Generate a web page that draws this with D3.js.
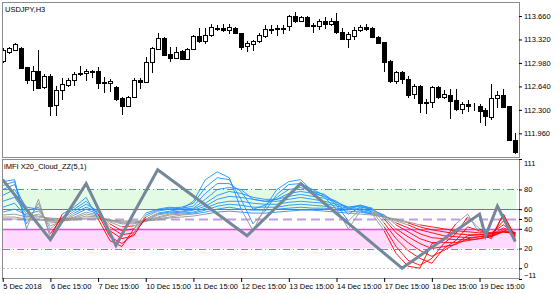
<!DOCTYPE html>
<html>
<head>
<meta charset="utf-8">
<script src="https://cdn.jsdelivr.net/npm/d3@7"></script>
<style>
  body { margin: 0; background: #fff; }
  svg { display: block; font-family: "Liberation Sans", Arial, sans-serif; font-size: 7.5px; }
</style>
</head>
<body>
<svg id="chart" width="560" height="294"></svg>
<script>
// USDJPY H3 candles, 5 Dec 15:00 .. 20 Dec 2018
const opens = [113.008,113.138,113.167,113.196,112.921,112.733,112.863,112.631,112.790,112.370,
  112.588,112.660,112.733,112.834,112.834,112.863,112.863,112.704,112.689,112.631,
  112.472,112.356,112.486,112.733,112.704,112.993,113.182,113.341,113.109,113.051,
  113.153,113.037,113.182,113.370,113.298,113.385,113.486,113.486,113.457,113.486,
  113.414,113.225,113.254,113.298,113.370,113.472,113.472,113.486,113.515,113.660,
  113.588,113.646,113.530,113.515,113.588,113.544,113.588,113.428,113.327,113.370,
  113.457,113.501,113.486,113.356,113.283,113.008,112.718,112.848,112.747,112.530,
  112.646,112.414,112.414,112.631,112.486,112.515,112.443,112.312,112.385,112.356,
  112.356,112.298,112.196,112.472,112.515,112.356,111.863]
const highs = [113.196,113.211,113.269,113.211,112.921,112.935,113.167,112.819,112.819,112.646,
  112.761,112.761,112.848,112.935,112.892,112.877,112.921,112.776,112.747,112.646,
  112.486,112.501,112.761,112.761,113.066,113.211,113.414,113.356,113.211,113.211,
  113.167,113.196,113.385,113.486,113.486,113.544,113.530,113.544,113.544,113.501,
  113.414,113.298,113.312,113.414,113.530,113.530,113.530,113.530,113.675,113.718,
  113.660,113.660,113.559,113.617,113.646,113.631,113.704,113.486,113.428,113.501,
  113.530,113.544,113.501,113.370,113.283,113.022,112.863,112.863,112.790,112.675,
  112.660,112.457,112.646,112.646,112.588,112.602,112.602,112.414,112.443,112.399,
  112.385,112.327,112.675,112.573,112.602,112.356,111.964]
const lows = [112.993,113.124,113.167,112.906,112.689,112.588,112.617,112.617,112.225,112.225,
  112.457,112.646,112.660,112.805,112.733,112.776,112.617,112.559,112.573,112.443,
  112.240,112.356,112.486,112.617,112.704,112.848,113.182,113.095,113.008,113.051,
  113.037,113.037,113.182,113.283,113.269,113.370,113.457,113.443,113.414,113.414,
  113.182,113.153,113.167,113.283,113.356,113.414,113.385,113.414,113.457,113.573,
  113.588,113.515,113.428,113.472,113.486,113.530,113.414,113.327,113.211,113.327,
  113.443,113.457,113.356,113.269,112.863,112.704,112.689,112.689,112.486,112.472,
  112.269,112.254,112.341,112.472,112.472,112.182,112.298,112.254,112.283,112.298,
  112.124,112.080,112.167,112.341,112.341,111.863,111.675]
const closes = [113.167,113.196,113.254,112.906,112.733,112.863,112.617,112.790,112.356,112.588,
  112.675,112.733,112.819,112.819,112.863,112.848,112.689,112.689,112.718,112.457,
  112.356,112.486,112.733,112.704,112.993,113.196,113.341,113.095,113.051,113.138,
  113.037,113.182,113.370,113.298,113.385,113.501,113.472,113.457,113.501,113.414,
  113.211,113.269,113.298,113.385,113.472,113.457,113.486,113.472,113.660,113.588,
  113.646,113.515,113.515,113.588,113.544,113.588,113.428,113.327,113.399,113.457,
  113.501,113.472,113.356,113.269,112.993,112.718,112.848,112.747,112.515,112.646,
  112.399,112.399,112.631,112.486,112.530,112.428,112.312,112.385,112.356,112.350,
  112.283,112.211,112.472,112.515,112.341,111.863,111.689]

const priceTicks = [113.660, 113.320, 112.980, 112.640, 112.300, 111.960]
const mfiTicks = [111, 80, 60, 50, 40, 20, 0, -11]
const dateIdx = [0, 8, 16, 24, 32, 40, 48, 56, 64, 72, 80]
const dateLabels = ['5 Dec 2018', '6 Dec 15:00', '7 Dec 15:00', '10 Dec 15:00', '11 Dec 15:00',
  '12 Dec 15:00', '13 Dec 15:00', '14 Dec 15:00', '17 Dec 15:00', '18 Dec 15:00', '19 Dec 15:00']

// MFI cloud, one value every second bar, fastest line first
const cloudIdx = d3.range(0, 87, 2)
const mfi1 = [88,90,40,70,31,55,62,72,50,28,22,40,56,60,62,60,68,90,98,92,60,38,62,80,88,90,78,72,60,40,58,55,38,15,2,0,25,28,45,55,35,30,55,30]
const mfi2 = [84,88,45,66,35,52,60,68,55,32,25,35,54,59,61,62,66,82,92,90,70,45,58,75,85,86,80,74,64,48,60,58,42,22,8,3,10,25,35,52,40,32,55,32]
const mfi3 = [80,85,58,62,40,50,58,65,58,38,30,33,52,58,60,61,63,76,86,86,78,60,64,72,80,82,78,75,66,55,62,60,46,30,18,10,5,20,28,42,38,35,48,33]
const mfi4 = [74,80,62,60,43,48,56,62,57,42,34,36,50,56,58,60,61,70,80,82,80,70,68,70,76,78,76,73,68,60,64,61,50,36,26,18,12,18,25,33,34,36,44,35]
const mfi5 = [68,72,55,58,46,47,54,60,55,45,38,40,49,55,57,58,60,66,74,78,76,72,70,70,73,75,73,71,67,62,64,60,52,40,32,25,20,22,24,30,32,34,41,36]
const mfi6 = [62,66,52,55,48,48,52,57,54,47,42,43,48,54,56,57,59,63,70,73,72,70,68,68,70,72,70,68,65,62,63,59,54,44,37,30,26,26,26,28,30,33,39,35]
const mfi7 = [57,60,54,53,50,50,51,55,53,48,45,45,48,52,55,56,57,61,66,68,68,66,65,65,67,68,67,66,63,61,61,57,54,46,41,35,31,30,29,29,30,32,37,35]
const mfi8 = [54,55,52,52,51,50,50,53,52,49,46,46,48,51,54,55,56,59,63,65,64,62,62,62,64,65,64,63,61,60,59,56,53,48,44,39,36,33,32,31,32,33,37,35]
const mfi9 = [52,52,50,50,49,49,50,51,51,49,47,47,48,50,52,54,55,57,60,62,60,59,59,60,61,62,61,61,59,58,57,55,52,49,46,42,39,37,35,34,34,35,37,36]
const mfi10 = [50,50,49,49,48,48,49,50,50,49,48,48,48,49,51,52,53,55,57,58,57,56,56,57,58,59,59,58,57,56,55,54,52,50,47,44,42,40,38,37,36,36,37,36]

const zzIdx = [0, 8, 14, 19, 26, 41, 50, 67, 80, 81, 83, 86]
const zzVal = [90, 29, 86, 23, 100, 33, 86, 0, 55, 33, 63, 27]

const svg = d3.select('#chart')

const left = 2, right = 519
const top1 = 2, bot1 = 157, top2 = 159, bot2 = 278

const x = d3.scaleLinear().domain([0, 86]).range([2.7, 515.3])
const yP = d3.scaleLinear().domain([111.617, 113.863]).range([bot1, top1])
const yM = d3.scaleLinear().domain([-11, 111]).range([279, 159])

svg.append('clipPath').attr('id', 'c1')
  .append('rect').attr('x', left).attr('y', top1).attr('width', right - left).attr('height', bot1 - top1)
svg.append('clipPath').attr('id', 'c2')
  .append('rect').attr('x', left).attr('y', top2).attr('width', right - left).attr('height', bot2 - top2)

// ---- price panel
const g1 = svg.append('g').attr('clip-path', 'url(#c1)')
const bars = d3.range(opens.length)

g1.selectAll('.wick').data(bars).join('line')
  .attr('class', 'wick')
  .attr('x1', (i) => Math.round(x(i)) + 0.5)
  .attr('x2', (i) => Math.round(x(i)) + 0.5)
  .attr('y1', (i) => Math.round(yP(highs[i])))
  .attr('y2', (i) => Math.round(yP(lows[i])) + 1)
  .attr('stroke', '#000')

g1.selectAll('.body').data(bars).join('rect')
  .attr('class', 'body')
  .attr('x', (i) => Math.round(x(i)) - 1.5)
  .attr('y', (i) => Math.round(yP(Math.max(opens[i], closes[i]))) + 0.5)
  .attr('width', 4)
  .attr('height', (i) => Math.max(0, Math.round(yP(Math.min(opens[i], closes[i]))) - Math.round(yP(Math.max(opens[i], closes[i])))))
  .attr('fill', (i) => closes[i] >= opens[i] ? '#fff' : '#000')
  .attr('stroke', '#000')

// ---- indicator panel
const g2 = svg.append('g').attr('clip-path', 'url(#c2)')

g2.append('rect').attr('x', 3).attr('width', 513)
  .attr('y', yM(80)).attr('height', yM(60) - yM(80)).attr('fill', '#e2fbe2')
g2.append('rect').attr('x', 3).attr('width', 513)
  .attr('y', yM(40)).attr('height', yM(20) - yM(40)).attr('fill', '#ffd9fe')

const levels = [
  { v: 80, c: '#4a9e92', w: 1, d: '7,3,1,3' },
  { v: 60, c: '#3f9383', w: 1, d: null },
  { v: 50, c: '#c09ce8', w: 2, d: '9,5' },
  { v: 40, c: '#ff3cff', w: 1.5, d: null },
  { v: 20, c: '#ff3cff', w: 1, d: '7,3,1,3' },
  { v: 0, c: '#c4c4c4', w: 1, d: '2,2' }
]
g2.selectAll('.lvl').data(levels).join('line')
  .attr('class', 'lvl')
  .attr('x1', 3).attr('x2', right)
  .attr('y1', (d) => Math.round(yM(d.v)) + 0.5)
  .attr('y2', (d) => Math.round(yM(d.v)) + 0.5)
  .attr('stroke', (d) => d.c)
  .attr('stroke-width', (d) => d.w)
  .attr('stroke-dasharray', (d) => d.d)

const cloud = [mfi1, mfi2, mfi3, mfi4, mfi5, mfi6, mfi7, mfi8, mfi9, mfi10]
const segs = []
cloud.forEach((vals, li) => {
  for (let k = 0; k < vals.length - 1; k++) {
    segs.push({ li, a: cloudIdx[k], b: cloudIdx[k + 1], va: vals[k], vb: vals[k + 1] })
  }
})
const segColor = (s) => {
  const m = (s.va + s.vb) / 2
  if (m >= 56) return '#1e90ff'
  if (m <= 44) return '#ff0000'
  return '#939393'
}
// slow lines first so the fast ones end up on top
g2.selectAll('.seg').data(segs.slice().reverse()).join('line')
  .attr('class', 'seg')
  .attr('x1', (s) => x(s.a)).attr('x2', (s) => x(s.b))
  .attr('y1', (s) => yM(s.va)).attr('y2', (s) => yM(s.vb))
  .attr('stroke', segColor)
  .attr('stroke-width', 0.9)

const zz = d3.line().x((d) => x(d[0])).y((d) => yM(d[1]))
g2.append('path')
  .datum(zzIdx.map((d, i) => [d, zzVal[i]]))
  .attr('d', zz)
  .attr('fill', 'none')
  .attr('stroke', '#76879a')
  .attr('stroke-width', 3)
  .attr('stroke-linejoin', 'miter')

// ---- frames
svg.append('rect').attr('x', left + 0.5).attr('y', top1 + 0.5)
  .attr('width', right - left).attr('height', bot1 - top1)
  .attr('fill', 'none').attr('stroke', '#8c8c8c')
svg.append('rect').attr('x', left + 0.5).attr('y', top2 + 0.5)
  .attr('width', right - left).attr('height', bot2 - top2)
  .attr('fill', 'none').attr('stroke', '#8c8c8c')

// ---- axes
const ax1 = svg.append('g').attr('transform', `translate(${right},0)`)
  .call(d3.axisRight(yP).tickValues(priceTicks).tickSize(3).tickPadding(2).tickFormat(d3.format('.3f')))
const ax2 = svg.append('g').attr('transform', `translate(${right},0)`)
  .call(d3.axisRight(yM).tickValues(mfiTicks).tickSize(3).tickPadding(2))
// top and bottom labels sit inside the panel, 0 is nudged up to clear -11
ax2.selectAll('.tick text')
  .attr('y', (d) => d === 111 ? 4 : d === -11 ? -4 : d === 0 ? -3 : 0)
const ax3 = svg.append('g').attr('transform', `translate(0,${bot2})`)
  .call(d3.axisBottom(x).tickValues(dateIdx).tickSize(4).tickPadding(2).tickFormat((d, i) => dateLabels[i]))
ax3.selectAll('.tick text').attr('text-anchor', 'start').attr('x', 0)

;[ax1, ax2, ax3].forEach((a) => {
  a.select('.domain').remove()
  a.attr('font-family', null).attr('font-size', null)
  a.selectAll('.tick line').attr('stroke', '#000')
  a.selectAll('.tick text').attr('fill', '#000')
})

svg.append('text').attr('x', 5).attr('y', 12).text('USDJPY,H3')
svg.append('text').attr('x', 4).attr('y', 169).text('iMFI X20_Cloud_ZZ(5,1)')
</script>
</body>
</html>
